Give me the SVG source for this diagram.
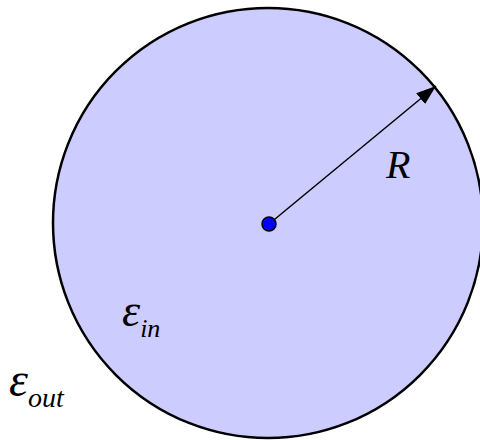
<svg xmlns="http://www.w3.org/2000/svg" width="480" height="440" viewBox="0 0 480 440">
<style>
.lbl{font-family:"Liberation Serif","Times New Roman",serif;font-style:italic;fill:#000}
</style>
<defs>
<marker id="arr" viewBox="0 0 20 14" refX="20" refY="7" markerWidth="20" markerHeight="14" markerUnits="userSpaceOnUse" orient="auto">
<path d="M0,0 L20,7 L0,14 z" fill="#000"/>
</marker>
</defs>
<g id="sphere">
<circle cx="268" cy="223" r="215" fill="#CCCCFF" stroke="#000" stroke-width="2.5"/>
</g>
<g id="connectors">
<line x1="269" y1="224" x2="436" y2="86" stroke="#000" stroke-width="1.5" marker-end="url(#arr)"/>
</g>
<g id="center">
<circle cx="269" cy="224" r="7" fill="#0000FF" stroke="#000" stroke-width="1.5"/>
</g>
<g id="label-R">
<text class="lbl" x="386" y="178" font-size="40">R</text>
</g>
<g id="label-ein">
<text class="lbl" x="122" y="326"><tspan font-size="46">ε</tspan><tspan font-size="26" dy="11">in</tspan></text>
</g>
<g id="label-eout">
<text class="lbl" x="9" y="396"><tspan font-size="48">ε</tspan><tspan font-size="28" dy="11">out</tspan></text>
</g>
</svg>
